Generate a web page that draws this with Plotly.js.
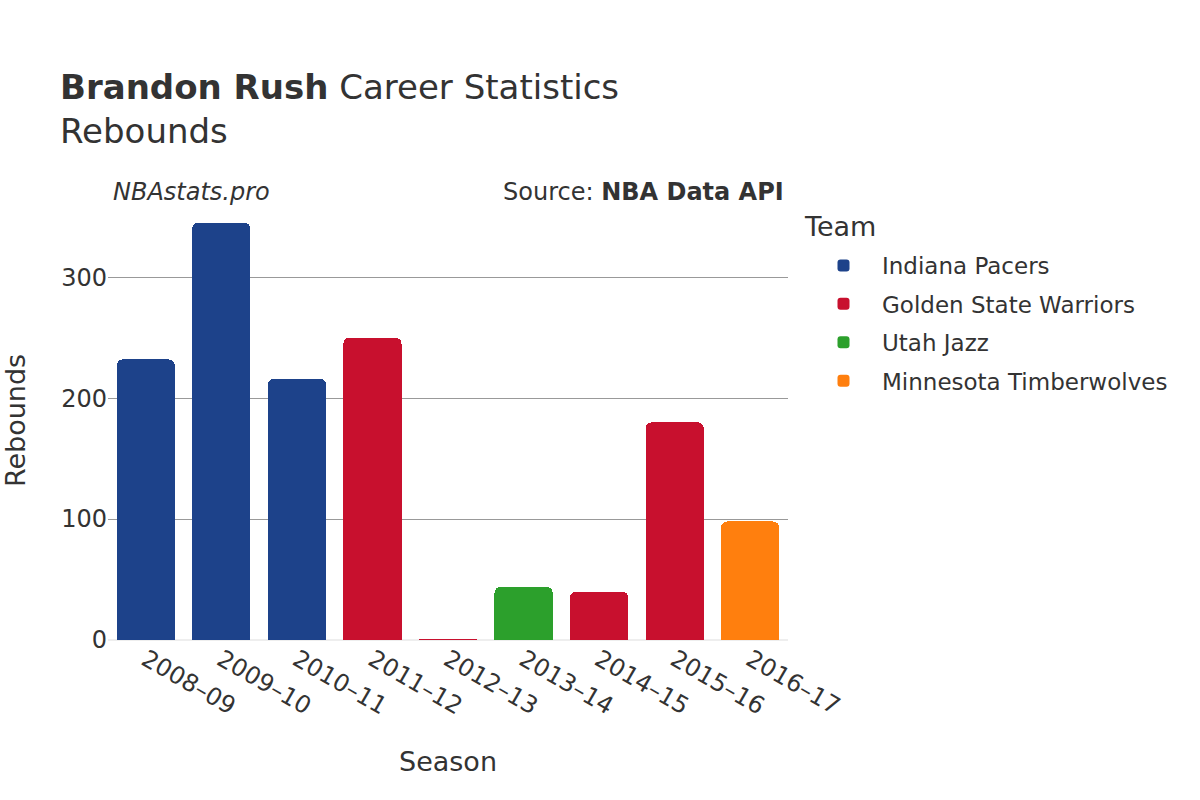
<!DOCTYPE html>
<html>
<head>
<meta charset="utf-8">
<script src="https://cdn.plot.ly/plotly-3.0.1.min.js"></script>
<style>html,body{margin:0;padding:0;background:#fff;}</style>
</head>
<body>
<div id="chart" style="width:1200px;height:800px;"></div>
<script>
const seasons = ["2008–09","2009–10","2010–11","2011–12","2012–13","2013–14","2014–15","2015–16","2016–17"];
const teams = ["Indiana Pacers","Golden State Warriors","Utah Jazz","Minnesota Timberwolves"];
const teamColors = ["#1d428a","#c8102e","#2ca02c","#ff7f0e"];
const pacersSeasons = ["2008–09","2009–10","2010–11"];
const pacersRebounds = [232, 345, 216];
const warriorsSeasons = ["2011–12","2012–13","2014–15","2015–16"];
const warriorsRebounds = [250, 1, 40, 180];
const jazzSeasons = ["2013–14"];
const jazzRebounds = [44];
const wolvesSeasons = ["2016–17"];
const wolvesRebounds = [98];

const seriesX = [pacersSeasons, warriorsSeasons, jazzSeasons, wolvesSeasons];
const seriesY = [pacersRebounds, warriorsRebounds, jazzRebounds, wolvesRebounds];

const font = "DejaVu Sans, sans-serif";
const traces = teams.map((t, i) => ({
  type: "bar",
  name: t,
  legendgroup: t,
  x: seriesX[i],
  y: seriesY[i],
  marker: {color: teamColors[i]},
  hoverinfo: "x+y+name"
}));

const layout = {
  width: 1200, height: 800,
  paper_bgcolor: "#fff", plot_bgcolor: "#fff",
  font: {family: font, color: "#333", size: 24},
  margin: {l: 108, r: 412, t: 201, b: 160},
  barmode: "stack",
  bargap: 0.23,
  barcornerradius: 6,
  title: {
    text: "<b>Brandon Rush</b> Career Statistics<br>Rebounds",
    x: 60/1200, xanchor: "left", y: 0.876, yanchor: "top",
    font: {family: font, size: 34, color: "#333"}
  },
  xaxis: {
    type: "category",
    categoryorder: "array",
    categoryarray: seasons,
    tickangle: 30,
    tickfont: {size: 24, color: "#333"},
    title: {text: "Season", font: {size: 27, color: "#333"}, standoff: 32},
    showgrid: false,
    zeroline: false
  },
  yaxis: {
    range: [0, 363],
    tickvals: [0, 100, 200, 300],
    tickfont: {size: 24, color: "#333"},
    title: {text: "Rebounds", font: {size: 27, color: "#333"}, standoff: 33},
    showgrid: true,
    gridcolor: "#999",
    gridwidth: 1,
    zeroline: true,
    zerolinecolor: "#eee",
    zerolinewidth: 2,
    ticklen: 0
  },
  legend: {
    x: 1.025, xanchor: "left", y: (640 - 244) / 439, yanchor: "top",
    traceorder: "grouped",
    font: {size: 23, color: "#333"},
    itemwidth: 67,
    tracegroupgap: 5.5
  },
  annotations: [
    {text: "<i>NBAstats.pro</i>", xref: "paper", yref: "paper", x: 0.005, y: 1.0, xanchor: "left", yanchor: "bottom", yshift: -7, showarrow: false, font: {size: 24, color: "#333"}},
    {text: "Source: <b>NBA Data API</b>", xref: "paper", yref: "paper", x: 0.997, y: 1.0, xanchor: "right", yanchor: "bottom", yshift: -7, showarrow: false, font: {size: 24, color: "#333"}},
    {text: "Team", xref: "paper", yref: "paper", x: (802 - 108) / 680, y: (640 - 226) / 439, xanchor: "left", yanchor: "middle", showarrow: false, font: {size: 27, color: "#333"}}
  ],
  showlegend: true
};

Plotly.newPlot("chart", traces, layout, {displayModeBar: false, staticPlot: true});
</script>
</body>
</html>
